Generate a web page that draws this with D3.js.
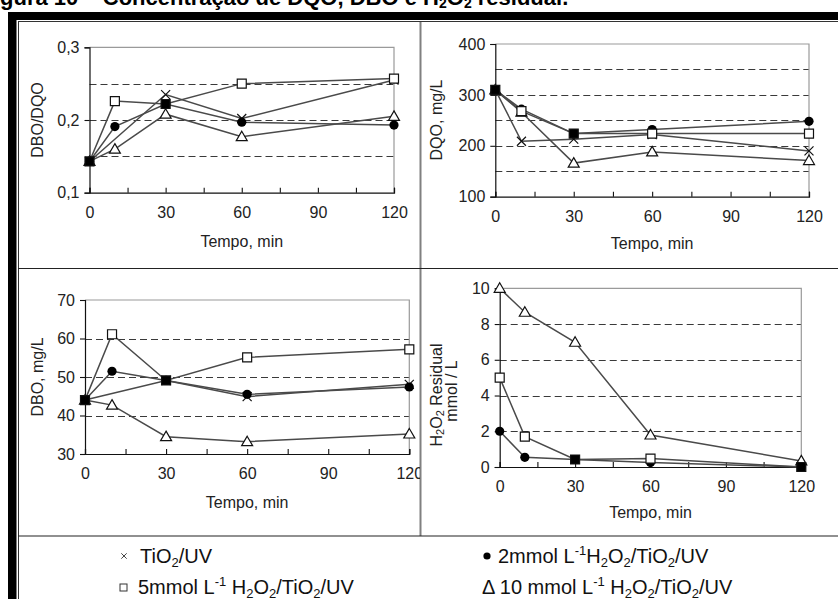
<!DOCTYPE html>
<html><head><meta charset="utf-8">
<script src="https://cdn.jsdelivr.net/npm/d3@7"></script>
<style>
html,body{margin:0;padding:0;background:#fff;}
svg{display:block;font-family:Arial,"Liberation Sans",sans-serif;}
</style></head>
<body>
<svg id="c" width="838" height="599"></svg>
<script>
// ---------- data ----------
const times = [0, 10, 30, 60, 120];
const xTicks = [0, 30, 60, 90, 120];
const xMinorTicks = [0, 15, 30, 45, 60, 75, 90, 105, 120];

// DBO/DQO
const ratioTiO2 = [0.143, null, 0.235, 0.202, 0.255];
const ratioH2O2_2 = [0.143, 0.191, 0.222, 0.197, 0.193];
const ratioH2O2_5 = [0.143, 0.226, 0.222, 0.250, 0.257];
const ratioH2O2_10 = [0.143, 0.160, 0.208, 0.177, 0.205];
const ratioTicks = [0.1, 0.2, 0.3];
const ratioGrid = [0.15, 0.2, 0.25];
const ratioLabels = ["0,1", "0,2", "0,3"];

// DQO mg/L
const dqoTiO2 = [310, 209, 213, 222, 190];
const dqoH2O2_2 = [310, 272, 224, 232, 248];
const dqoH2O2_5 = [310, 268, 224, 224, 224];
const dqoH2O2_10 = [310, 266, 166, 188, 171];
const dqoTicks = [100, 200, 300, 400];
const dqoGrid = [150, 200, 250, 300, 350];

// DBO mg/L
const dboTiO2 = [44, null, 49.1, 44.9, 48.1];
const dboH2O2_2 = [44, 51.5, 49.1, 45.5, 47.4];
const dboH2O2_5 = [44, 61.1, 49.1, 55.1, 57.2];
const dboH2O2_10 = [44, 42.7, 34.5, 33.2, 35.2];
const dboTicks = [30, 40, 50, 60, 70];
const dboGrid = [40, 50, 60];

// H2O2 residual mmol/L
const h2o2H2O2_2 = [2.0, 0.54, 0.42, 0.25, 0];
const h2o2H2O2_5 = [5.0, 1.7, 0.42, 0.47, 0];
const h2o2H2O2_10 = [10, 8.66, 6.98, 1.79, 0.34];
const h2o2Ticks = [0, 2, 4, 6, 8, 10];
const h2o2Grid = [2, 4, 6, 8];

const svg = d3.select("#c");
const LINE = "#4a4a4a";

// ---------- frame ----------
svg.append("rect").attr("x", 8).attr("y", 12).attr("width", 830).attr("height", 8).attr("fill", "#000");
svg.append("rect").attr("x", 8).attr("y", 12).attr("width", 8.5).attr("height", 587).attr("fill", "#000");
svg.append("line").attr("x1", 18).attr("x2", 838).attr("y1", 21.5).attr("y2", 21.5).attr("stroke", "#333").attr("stroke-width", 1);
svg.append("line").attr("x1", 18.5).attr("x2", 18.5).attr("y1", 21.5).attr("y2", 599).attr("stroke", "#333").attr("stroke-width", 1);
svg.append("line").attr("x1", 420.5).attr("x2", 420.5).attr("y1", 22).attr("y2", 536).attr("stroke", "#808080").attr("stroke-width", 2);
svg.append("line").attr("x1", 18).attr("x2", 838).attr("y1", 268.5).attr("y2", 268.5).attr("stroke", "#222").attr("stroke-width", 1.2);
svg.append("line").attr("x1", 18).attr("x2", 838).attr("y1", 536).attr("y2", 536).attr("stroke", "#222").attr("stroke-width", 1.2);

// title (cut at top/left as in reference)
const title = svg.append("text").attr("x", -19.5).attr("y", 4.5).attr("font-size", 22).attr("font-weight", "bold").attr("fill", "#000");
title.append("tspan").text("Figura 10 \u2013 Concentração de DQO, DBO e H");
title.append("tspan").attr("font-size", 14).attr("dy", 3).text("2");
title.append("tspan").attr("dy", -3).text("O");
title.append("tspan").attr("font-size", 14).attr("dy", 3).text("2");
title.append("tspan").attr("dy", -3).text(" residual.");

// ---------- panels ----------
const defs = svg.append("defs");

function markerPath(type, x, y) {
  if (type === "square") return `M${x-4.5},${y-4.5}h9v9h-9Z`;
  if (type === "tri") return `M${x},${y-5.5}L${x+5.5},${y+4}L${x-5.5},${y+4}Z`;
  if (type === "x") return `M${x-4.5},${y-4.5}L${x+4.5},${y+4.5}M${x+4.5},${y-4.5}L${x-4.5},${y+4.5}`;
  return "";
}

function panel(cfg) {
  const id = "clip" + cfg.id;
  defs.append("clipPath").attr("id", id).append("rect")
    .attr("x", cfg.cell[0]).attr("y", cfg.cell[1]).attr("width", cfg.cell[2]).attr("height", cfg.cell[3]);
  const g = svg.append("g").attr("clip-path", `url(#${id})`);
  const x = d3.scaleLinear().domain([0, 120]).range(cfg.xr);
  const y = d3.scaleLinear().domain(cfg.yd).range(cfg.yr);

  // gridlines
  g.selectAll(".grid").data(cfg.grid).join("line")
    .attr("x1", cfg.xr[0]).attr("x2", cfg.xr[1])
    .attr("y1", d => Math.round(y(d)) + 0.5).attr("y2", d => Math.round(y(d)) + 0.5)
    .attr("stroke", "#3a3a3a").attr("stroke-width", 1.2).attr("stroke-dasharray", "7,4");
  // top & right gray border
  g.append("path")
    .attr("d", `M${cfg.xr[0]},${y(cfg.yd[1])}H${cfg.xr[1]}V${y(cfg.yd[0])}`)
    .attr("fill", "none").attr("stroke", "#9a9a9a").attr("stroke-width", 1.2);

  // axes
  const yAxis = d3.axisLeft(y).tickValues(cfg.yTicks).tickSize(5).tickPadding(5)
    .tickFormat((d, i) => cfg.yLabels ? cfg.yLabels[i] : d);
  const ya = g.append("g").attr("transform", `translate(${cfg.xr[0]},0)`).call(yAxis);
  const xAxis = d3.axisBottom(x).tickValues(xMinorTicks).tickSize(-5).tickPadding(14)
    .tickFormat(d => xTicks.includes(d) ? d : "");
  const xa = g.append("g").attr("transform", `translate(0,${cfg.yr[0]})`).call(xAxis);
  [ya, xa].forEach(a => {
    a.select(".domain").attr("stroke", "#111").attr("stroke-width", 1.2);
    a.selectAll(".tick line").attr("stroke", "#111").attr("stroke-width", 1.1);
    a.selectAll("text").attr("font-size", 16).attr("fill", "#222").attr("font-family", "Arial, 'Liberation Sans', sans-serif");
  });

  // axis titles
  g.append("text").attr("x", (cfg.xr[0] + cfg.xr[1]) / 2).attr("y", cfg.xTitleY)
    .attr("text-anchor", "middle").attr("font-size", 16).attr("fill", "#222").text("Tempo, min");
  cfg.yTitle(g);

  // series
  const line = d3.line().defined(d => d[1] != null).x(d => x(d[0])).y(d => y(d[1]));
  cfg.series.forEach(s => {
    const pts = times.map((t, i) => [t, s.values[i]]).filter(d => d[1] != null);
    g.append("path").datum(pts).attr("d", line).attr("fill", "none")
      .attr("stroke", LINE).attr("stroke-width", 1.5);
  });
  cfg.series.forEach(s => {
    const pts = times.map((t, i) => [t, s.values[i], i]).filter(d => d[1] != null);
    if (s.type === "circle") {
      g.selectAll(null).data(pts).join("circle")
        .attr("cx", d => x(d[0])).attr("cy", d => y(d[1])).attr("r", 4.6).attr("fill", "#000");
    } else {
      g.selectAll(null).data(pts).join("path")
        .attr("d", d => markerPath(s.type, x(d[0]), y(d[1])))
        .attr("fill", d => {
          if (s.type === "x") return "none";
          if (s.type === "square" && s.coincide && s.coincide[d[2]] === d[1]) return "#000";
          return "#fff";
        })
        .attr("stroke", "#111").attr("stroke-width", 1.2);
    }
  });
}

function rotLabel(g, x, y, txt) {
  g.append("text").attr("transform", `translate(${x},${y}) rotate(-90)`)
    .attr("text-anchor", "middle").attr("font-size", 16).attr("fill", "#222").text(txt);
}

panel({
  id: 1, cell: [19, 22, 401, 246], xr: [89.5, 394], yd: [0.1, 0.3], yr: [192.7, 47.3],
  yTicks: ratioTicks, yLabels: ratioLabels, grid: ratioGrid, xTitleY: 247,
  yTitle: g => rotLabel(g, 43, 120, "DBO/DQO"),
  series: [
    {type: "tri", values: ratioH2O2_10},
    {type: "x", values: ratioTiO2},
    {type: "circle", values: ratioH2O2_2},
    {type: "square", values: ratioH2O2_5, coincide: ratioH2O2_2}
  ]
});
panel({
  id: 2, cell: [421, 22, 417, 246], xr: [495.3, 809], yd: [100, 400], yr: [196.7, 44],
  yTicks: dqoTicks, grid: dqoGrid, xTitleY: 249,
  yTitle: g => rotLabel(g, 442, 120, "DQO, mg/L"),
  series: [
    {type: "tri", values: dqoH2O2_10},
    {type: "x", values: dqoTiO2},
    {type: "circle", values: dqoH2O2_2},
    {type: "square", values: dqoH2O2_5, coincide: dqoH2O2_2}
  ]
});
panel({
  id: 3, cell: [19, 269, 401, 267], xr: [85, 409.3], yd: [30, 70], yr: [454, 300],
  yTicks: dboTicks, grid: dboGrid, xTitleY: 508,
  yTitle: g => rotLabel(g, 43, 377, "DBO, mg/L"),
  series: [
    {type: "tri", values: dboH2O2_10},
    {type: "x", values: dboTiO2},
    {type: "circle", values: dboH2O2_2},
    {type: "square", values: dboH2O2_5, coincide: dboH2O2_2}
  ]
});
panel({
  id: 4, cell: [421, 269, 417, 267], xr: [499.7, 801.3], yd: [0, 10], yr: [467, 288.3],
  yTicks: h2o2Ticks, grid: h2o2Grid, xTitleY: 518,
  yTitle: g => {
    const t = g.append("text").attr("transform", `translate(442,395) rotate(-90)`)
      .attr("text-anchor", "middle").attr("font-size", 16).attr("fill", "#222");
    t.append("tspan").text("H");
    t.append("tspan").attr("font-size", 11).attr("dy", 2).text("2");
    t.append("tspan").attr("dy", -2).text("O");
    t.append("tspan").attr("font-size", 11).attr("dy", 2).text("2");
    t.append("tspan").attr("dy", -2).text(" Residual");
    g.append("text").attr("transform", `translate(457,391) rotate(-90)`)
      .attr("text-anchor", "middle").attr("font-size", 16).attr("fill", "#222").text("mmol / L");
  },
  series: [
    {type: "tri", values: h2o2H2O2_10},
    {type: "circle", values: h2o2H2O2_2},
    {type: "square", values: h2o2H2O2_5, coincide: h2o2H2O2_2}
  ]
});

// ---------- legend ----------
function legendText(x, y, parts) {
  const t = svg.append("text").attr("x", x).attr("y", y).attr("font-size", 20).attr("fill", "#111");
  let shift = 0;
  parts.forEach(p => {
    const sp = t.append("tspan").text(p[0]);
    const target = p[1] === "sub" ? 4 : p[1] === "sup" ? -8 : 0;
    if (target !== shift) sp.attr("dy", target - shift);
    if (p[1]) sp.attr("font-size", 13);
    shift = target;
  });
}
svg.append("path").attr("d", markerPath("x", 124, 556)).attr("stroke", "#111").attr("stroke-width", 1.3).attr("fill", "none")
  .attr("transform", "translate(124,556) scale(0.6) translate(-124,-556)");
legendText(140, 563, [["TiO"], ["2", "sub"], ["/UV"]]);
svg.append("rect").attr("x", 120).attr("y", 584).attr("width", 7).attr("height", 7).attr("fill", "#fff").attr("stroke", "#333").attr("stroke-width", 1);
legendText(138, 594, [["5mmol L"], ["-1", "sup"], [" H"], ["2", "sub"], ["O"], ["2", "sub"], ["/TiO"], ["2", "sub"], ["/UV"]]);
svg.append("circle").attr("cx", 487).attr("cy", 556).attr("r", 3.6).attr("fill", "#000");
legendText(498, 563, [["2mmol L"], ["-1", "sup"], ["H"], ["2", "sub"], ["O"], ["2", "sub"], ["/TiO"], ["2", "sub"], ["/UV"]]);
legendText(482, 594, [["\u0394 10 mmol L"], ["-1", "sup"], [" H"], ["2", "sub"], ["O"], ["2", "sub"], ["/TiO"], ["2", "sub"], ["/UV"]]);
</script>
</body></html>
